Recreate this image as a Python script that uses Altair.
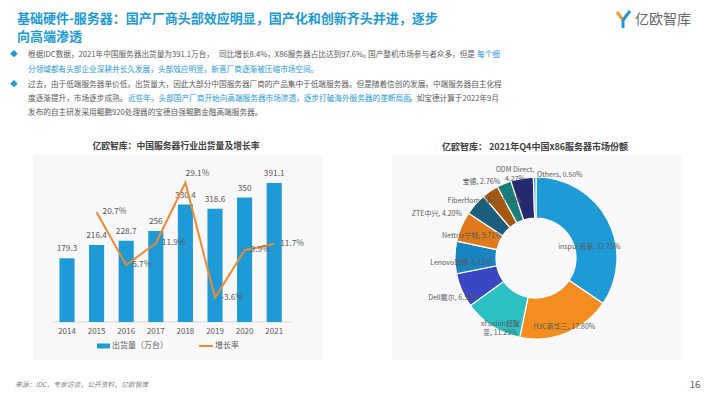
import math
import altair as alt
import pandas as pd

# ---------------- data ----------------
years = ["2014", "2015", "2016", "2017", "2018", "2019", "2020", "2021"]
shipments = [179.3, 216.4, 228.7, 256, 330.4, 318.6, 350, 391.1]
growth = [None, 20.7, 5.7, 11.9, 29.1, -3.6, 9.9, 11.7]

vendors = ["inspur浪潮", "H3C新华三", "xFusion超聚变", "Dell戴尔", "Lenovo联想", "Nettrix宁畅",
           "ZTE中兴", "FiberHome烽火", "宝德", "ODM Direct", "Others"]
shares = [32.75, 17.80, 11.25, 6.51, 6.12, 5.71, 4.20, 3.15, 2.76, 4.27, 0.50]
share_labels = ["inspur浪潮, 32.75%", "H3C新华三, 17.80%", "xFusion超聚\n变, 11.25%", "Dell戴尔, 6.51%",
                "Lenovo联想, 6.12%", "Nettrix宁畅, 5.71%", "ZTE中兴, 4.20%", "FiberHome烽火, 3.15%",
                "宝德, 2.76%", "ODM Direct,\n4.27%", "Others, 0.50%"]

# ---------------- styles ----------------
vendor_colors = ["#1E9BD7", "#F38D1F", "#2BC1C3", "#3947C2", "#1884C1", "#E0791B",
                 "#1C5E7E", "#A5570F", "#187F7A", "#232A70", "#4F95C9"]
FONT = "Noto Sans CJK SC"
GRAY = "#595959"
BLUE = "#1A9AD7"
BAR_BLUE = "#1E9BD7"
ORANGE = "#EE8A2F"


def P(v):
    return v - 8  # page pixel -> chart pixel


one = pd.DataFrame({"k": [0]})


def txt(s, x, y, size=7.65, color=GRAY, align="left", weight="normal", style="normal"):
    return alt.Chart(one).mark_text(
        text=s, font=FONT, fontSize=size, color=color, align=align, baseline="middle",
        fontWeight=weight, fontStyle=style
    ).encode(x=alt.value(P(x)), y=alt.value(P(y)))


def rect(x1, x2, y1, y2, color):
    return alt.Chart(one).mark_rect(color=color).encode(
        x=alt.value(P(x1)), x2=alt.value(P(x2)), y=alt.value(P(y1)), y2=alt.value(P(y2)))


def rule(x1, y1, x2, y2, color, w):
    return alt.Chart(one).mark_rule(color=color, strokeWidth=w).encode(
        x=alt.value(P(x1)), y=alt.value(P(y1)), x2=alt.value(P(x2)), y2=alt.value(P(y2)))


layers = []

# panel backgrounds
layers += [rect(33, 323, 155, 360, "#F8F8F8"), rect(392, 682, 155, 360, "#F8F8F8")]

# header
layers += [
    txt("基础硬件-服务器：国产厂商头部效应明显，国产化和创新齐头并进，逐步", 17, 18.5, 13, BLUE, weight="bold"),
    txt("向高端渗透", 17, 37, 13, BLUE, weight="bold"),
    txt("◆", 10, 55, 7.5, BLUE),
    txt("◆", 10, 85, 7.5, BLUE),
    txt("根据IDC数据，2021年中国服务器出货量为391.1万台，", 28, 55),
    txt("同比增长8.4%，X86服务器占比达到97.6%。", 219, 55),
    txt("国产整机市场参与者众多，但是", 475, 55, align="right"),
    txt("每个细", 477, 55, color=BLUE),
    txt("分领域都有头部企业深耕并长久发展，头部效应明显，新晋厂商逐渐被压缩市场空间。", 28, 70, color=BLUE),
    txt("过去，由于低端服务器单价低，出货量大，因此大部分中国服务器厂商的产品集中于低端服务器。但是随着信创的发展，中端服务器自主化程", 28, 85),
    txt("度逐渐提升，市场逐步成熟。", 28, 99),
    txt("近些年，头部国产厂商开始向高端服务器市场渗透，逐步打破海外服务器的垄断局面", 128, 99, color=BLUE),
    txt("，如宝德计算于2022年9月", 409, 99),
    txt("发布的自主研发采用鲲鹏920处理器的宝德自强鲲鹏金融高端服务器。", 28, 113),
    # logo
    rule(617, 12, 623, 20, "#F39A2B", 3),
    rule(630, 11, 623, 20, BLUE, 3),
    rule(623, 20, 623, 28, BLUE, 3),
    txt("亿欧智库", 635, 20, 14, "#666666"),
    # footer
    txt("来源：IDC，专家访谈，公开资料，亿欧智库", 15, 385, 6.8, "#7F7F7F", style="italic"),
    txt("16", 695, 385, 9.5, GRAY, align="center"),
    # panel titles
    txt("亿欧智库：中国服务器行业出货量及增长率", 176, 146, 8.8, "#404040", align="center", weight="bold"),
    txt("亿欧智库： 2021年Q4中国x86服务器市场份额", 535, 147, 9, "#404040", align="center", weight="bold"),
]

# ---------------- bar + line chart ----------------
bar_df = pd.DataFrame({"year": years, "shipments": shipments, "growth": growth})
bar_df["slabel"] = [f"{v:g}" for v in shipments]
bar_df["glabel"] = ["" if g is None else f"{g}%" for g in growth]

x = alt.X("year:N", axis=None,
          scale=alt.Scale(type="band", domain=years, range=[P(52.2), P(289)],
                          paddingInner=0.49, paddingOuter=0.245))
yb = alt.Y("shipments:Q", axis=None,
           scale=alt.Scale(domain=[0, 450], range=[P(322), P(162)], nice=False))
yg = alt.Y("growth:Q", axis=None,
           scale=alt.Scale(domain=[-10.5, 35], range=[P(322), P(162)], nice=False, zero=False))

base = alt.Chart(bar_df)
layers += [
    rule(52, 322, 292, 322, "#D9D9D9", 1),
    base.mark_bar(color=BAR_BLUE).encode(x=x, y=yb),
    base.mark_text(font=FONT, fontSize=8.3, color=GRAY, baseline="middle", dy=-9).encode(
        x=x, y=yb, text="slabel:N"),
    base.transform_filter("isValid(datum.growth)").mark_line(color=ORANGE, strokeWidth=2).encode(x=x, y=yg),
    base.transform_filter("isValid(datum.growth) && datum.year != '2018'").mark_text(
        font=FONT, fontSize=8.3, color=GRAY, baseline="middle", align="left", dx=6).encode(
        x=x, y=yg, text="glabel:N"),
    base.transform_filter("datum.year == '2018'").mark_text(
        font=FONT, fontSize=8.3, color=GRAY, baseline="middle", align="center", dx=12, dy=-9).encode(
        x=x, y=yg, text="glabel:N"),
    base.mark_text(font=FONT, fontSize=8, color=GRAY, baseline="middle").encode(
        x=x, y=alt.value(P(332)), text="year:N"),
    # legend
    rect(97, 110, 343.5, 348.5, BAR_BLUE),
    txt("出货量（万台）", 112, 346, 8, GRAY),
    rule(199, 346, 213, 346, ORANGE, 2),
    txt("增长率", 215, 346, 8, GRAY),
]

# ---------------- donut ----------------
pie_df = pd.DataFrame({"idx": list(range(len(vendors))), "name": vendors,
                       "value": shares, "label": share_labels})
total = sum(shares)
theta_scale = alt.Scale(domain=[0, total], range=[0, 2 * math.pi])
CX, CY = P(536), P(258)

layers.append(
    alt.Chart(pie_df).mark_arc(innerRadius=40, outerRadius=81, stroke="white", strokeWidth=1.2).encode(
        theta=alt.Theta("value:Q", stack=True, scale=theta_scale),
        order=alt.Order("idx:Q"),
        color=alt.Color("name:N", scale=alt.Scale(domain=vendors, range=vendor_colors), legend=None),
        x=alt.value(CX), y=alt.value(CY))
)

label_offsets = {
    "inspur浪潮": (-13, 24), "H3C新华三": (0, 0), "xFusion超聚变": (5, 3), "Dell戴尔": (-14, 10),
    "Lenovo联想": (0, 6), "Nettrix宁畅": (5, 7), "ZTE中兴": (-43, 6), "FiberHome烽火": (-9, 5),
    "宝德": (-25, -7), "ODM Direct": (-8, -14), "Others": (25, -8),
}
for name in vendors:
    dx, dy = label_offsets[name]
    layers.append(
        alt.Chart(pie_df)
        .transform_window(cum="sum(value)", sort=[alt.SortField("idx")])
        .transform_calculate(mid="datum.cum - datum.value / 2")
        .transform_filter(alt.datum.name == name)
        .mark_text(radius=75, dx=dx, dy=dy, font=FONT, fontSize=7, color=GRAY,
                   lineBreak="\n", align="center", baseline="middle")
        .encode(theta=alt.Theta("mid:Q", stack=False, scale=theta_scale),
                text="label:N", x=alt.value(CX), y=alt.value(CY))
    )

chart = (
    alt.layer(*layers)
    .resolve_scale(y="independent", theta="independent")
    .properties(width=694, height=383, autosize=alt.AutoSizeParams(type="none"), padding=0,
                background="white")
    .configure_view(strokeWidth=0)
)

chart.save("out.html", embed_options={"renderer": "svg", "actions": False})
